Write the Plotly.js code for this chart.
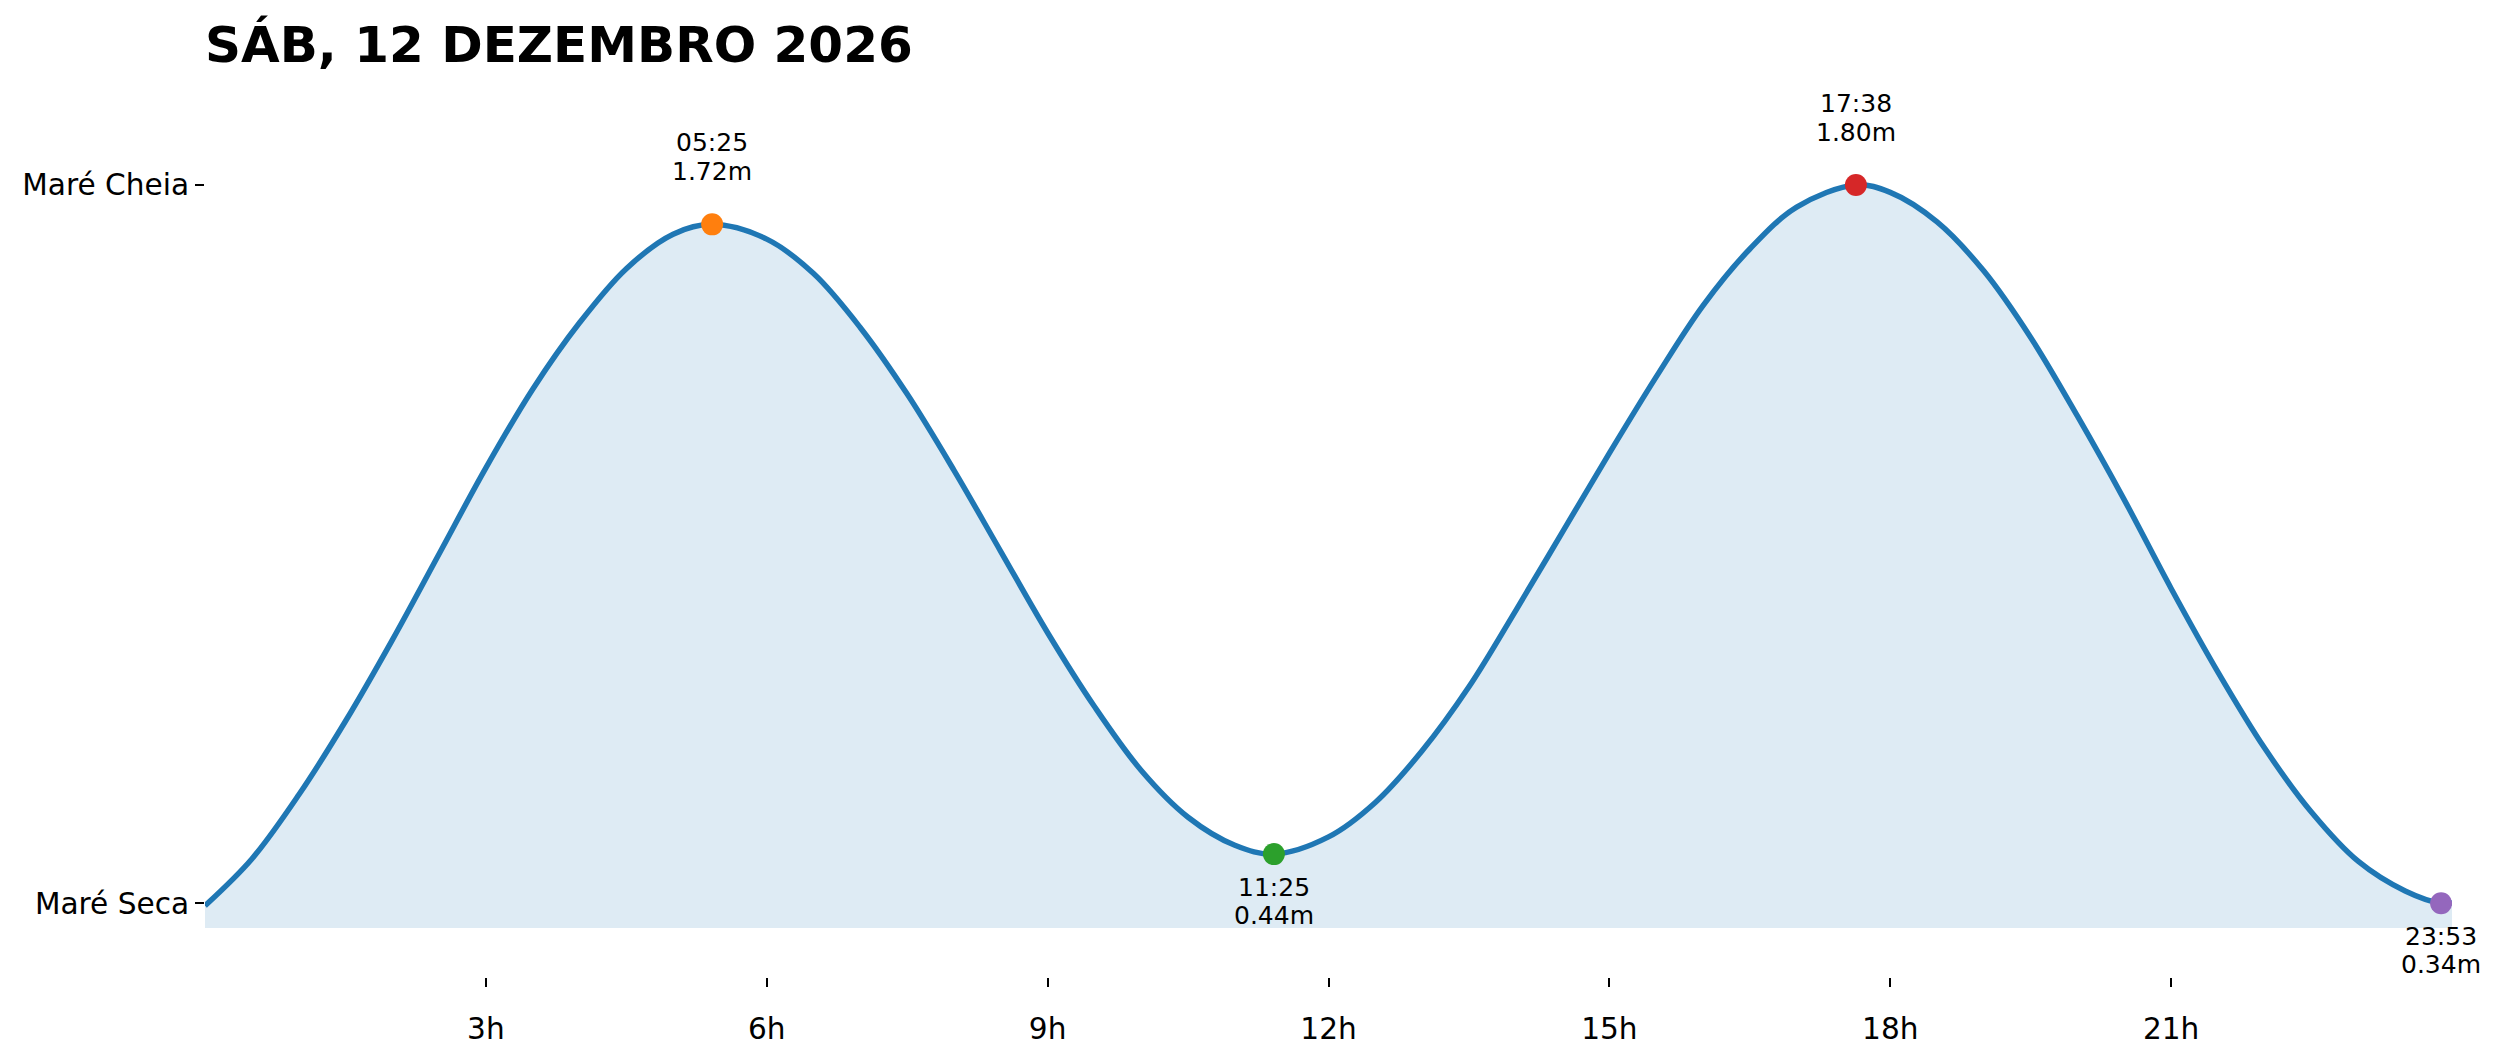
<!DOCTYPE html>
<html>
<head>
<meta charset="utf-8">
<script src="https://cdn.plot.ly/plotly-3.0.1.min.js"></script>
<style>
  html, body { margin: 0; padding: 0; background: #fff; }
  #chart { width: 2500px; height: 1062px; }
</style>
</head>
<body>
<div id="chart"></div>
<script>
// Tide curve every half hour (hours since midnight, metres)
const hours = [0, 0.5, 1, 1.5, 2, 2.5, 3, 3.5, 4, 4.5, 5, 5.417, 6, 6.5, 7, 7.5, 8, 8.5, 9, 9.5,
               10, 10.5, 11, 11.417, 12, 12.5, 13, 13.5, 14, 14.5, 15, 15.5, 16, 16.5, 17, 17.633,
               18, 18.5, 19, 19.5, 20, 20.5, 21, 21.5, 22, 22.5, 23, 23.5, 23.883, 24];
const levels = [0.335, 0.43, 0.56, 0.71, 0.875, 1.05, 1.225, 1.385, 1.52, 1.63, 1.70, 1.72, 1.69, 1.62, 1.51, 1.375, 1.22, 1.055, 0.89, 0.74,
                0.61, 0.515, 0.458, 0.44, 0.475, 0.545, 0.65, 0.78, 0.935, 1.095, 1.255, 1.41, 1.555, 1.67, 1.755, 1.80,
                1.785, 1.725, 1.625, 1.49, 1.33, 1.16, 0.98, 0.81, 0.655, 0.525, 0.425, 0.365, 0.34, 0.341];

// High / low water
const extremeTimes = ['05:25', '11:25', '17:38', '23:53'];
const extremeLevels = [1.72, 0.44, 1.80, 0.34];
const extremeKinds = ['high', 'low', 'high', 'low'];
const extremeColors = ['#ff7f0e', '#2ca02c', '#d62728', '#9467bd'];

// Axis ticks
const hourTicks = [3, 6, 9, 12, 15, 18, 21];
const hourTickText = ['3h', '6h', '9h', '12h', '15h', '18h', '21h'];
const levelTicks = [0.34, 1.80];
const levelTickText = ['Maré Seca', 'Maré Cheia'];

const fillBase = 0.29;
const titleText = 'SÁB, 12 DEZEMBRO 2026';

const FONT = 'DejaVu Sans, Verdana, sans-serif';

function toHours(hhmm) {
    const parts = hhmm.split(':');
    return Number(parts[0]) + Number(parts[1]) / 60;
}

const extremeHours = extremeTimes.map(toHours);

// Baseline for the area fill
const baseTrace = {
    x: [hours[0], hours[hours.length - 1]],
    y: [fillBase, fillBase],
    type: 'scatter',
    mode: 'lines',
    line: { width: 0, color: 'rgba(0,0,0,0)' },
    hoverinfo: 'skip',
    showlegend: false
};

const tideTrace = {
    x: hours,
    y: levels,
    type: 'scatter',
    mode: 'lines',
    line: { color: '#1f77b4', width: 5.5, shape: 'spline', smoothing: 1 },
    fill: 'tonexty',
    fillcolor: 'rgba(31,119,180,0.15)',
    showlegend: false
};

const markerTraces = extremeHours.map((h, i) => ({
    x: [h],
    y: [extremeLevels[i]],
    type: 'scatter',
    mode: 'markers',
    marker: { color: extremeColors[i], size: 22 },
    showlegend: false
}));

// Two lines per label, placed above highs and below lows
const annotations = [];
extremeHours.forEach((h, i) => {
    const high = extremeKinds[i] === 'high';
    const lines = [extremeTimes[i], extremeLevels[i].toFixed(2) + 'm'];
    const shifts = high ? [82, 53] : [-33, -61];
    lines.forEach((txt, j) => {
        annotations.push({
            x: h,
            y: extremeLevels[i],
            xref: 'x',
            yref: 'y',
            text: txt,
            showarrow: false,
            xanchor: 'center',
            yanchor: 'middle',
            yshift: shifts[j],
            font: { family: FONT, size: 25, color: '#000' }
        });
    });
});

const tickFont = { family: FONT, size: 29.6, color: '#000' };

const layout = {
    width: 2500,
    height: 1062,
    margin: { l: 205, r: 48, t: 100, b: 85, pad: 0 },
    paper_bgcolor: '#fff',
    plot_bgcolor: '#fff',
    showlegend: false,
    font: { family: FONT, size: 28, color: '#000' },
    title: {
        text: titleText,
        font: { family: FONT, size: 50, color: '#000', weight: 'bold' },
        xref: 'container',
        yref: 'container',
        x: 205 / 2500,
        xanchor: 'left',
        y: 1 - 44 / 1062,
        yanchor: 'middle'
    },
    xaxis: {
        range: [0, 24],
        showgrid: false,
        zeroline: false,
        showline: false,
        tickmode: 'array',
        tickvals: hourTicks,
        ticktext: hourTickText,
        ticks: 'outside',
        ticklen: 9,
        tickwidth: 2,
        tickcolor: '#000',
        ticklabelstandoff: 16,
        tickfont: tickFont,
        fixedrange: true
    },
    yaxis: {
        range: [0.1902, 1.9728],
        showgrid: false,
        zeroline: false,
        showline: false,
        tickmode: 'array',
        tickvals: levelTicks,
        ticktext: levelTickText,
        ticks: 'outside',
        ticklen: 9,
        tickwidth: 2,
        tickcolor: '#000',
        tickfont: tickFont,
        fixedrange: true
    },
    annotations: annotations
};

Plotly.newPlot('chart', [baseTrace, tideTrace].concat(markerTraces), layout,
    { displayModeBar: false, staticPlot: true });
</script>
</body>
</html>
